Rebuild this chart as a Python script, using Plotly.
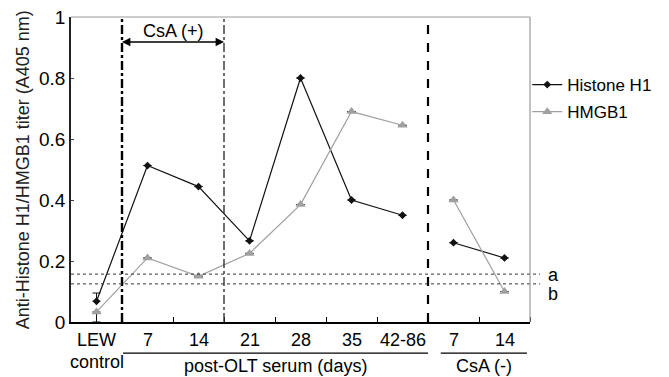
import plotly.graph_objects as go

categories = ["LEW", "7", "14", "21", "28", "35", "42-86", "7", "14"]
histone_h1 = [0.068, 0.513, 0.444, 0.266, 0.80, 0.40, 0.35, 0.26, 0.21]
hmgb1 = [0.033, 0.21, 0.15, 0.225, 0.385, 0.69, 0.645, 0.40, 0.10]
lew_err_h1 = 0.027
lew_err_hmgb1 = 0.033
cutoff_a = 0.157
cutoff_b = 0.125

xs = list(range(len(categories)))

def with_gap(vals):
    # break line between post-OLT group and CsA(-) group
    return vals[:7] + [None] + vals[7:]

xg = xs[:7] + [6.5] + xs[7:]

font = "Liberation Sans, Arial, sans-serif"
FS = 18
fig = go.Figure()

fig.add_trace(go.Scatter(
    x=xg, y=with_gap(histone_h1), name="Histone H1", mode="lines+markers",
    legendgroup="h1",
    line=dict(color="#111111", width=1.2),
    marker=dict(symbol="diamond", size=6, color="#111111"),
    error_y=dict(type="data", array=[lew_err_h1] + [0] * 9, arrayminus=[0] * 10,
                 color="#111111", thickness=1, width=4),
))
fig.add_trace(go.Scatter(
    x=xg, y=with_gap(hmgb1), name="HMGB1", mode="lines+markers",
    legendgroup="hmgb1",
    line=dict(color="#a0a0a0", width=1.2),
    marker=dict(symbol="triangle-up", size=9, color="#a0a0a0"),
    error_y=dict(type="data", array=[0] * 10, arrayminus=[lew_err_hmgb1] + [0] * 9,
                 color="#111111", thickness=1, width=4),
))

shapes = []
# vertical separators
shapes.append(dict(type="line", xref="x", yref="paper", x0=0.5, x1=0.5, y0=0, y1=1,
                   line=dict(color="black", width=2.4, dash="dashdot")))
shapes.append(dict(type="line", xref="x", yref="paper", x0=2.5, x1=2.5, y0=0, y1=1,
                   line=dict(color="#333333", width=1.4, dash="dashdot")))
shapes.append(dict(type="line", xref="x", yref="paper", x0=6.5, x1=6.5, y0=0, y1=1,
                   line=dict(color="black", width=2.2, dash="dash")))
# cutoff lines
for yv in (cutoff_a, cutoff_b):
    shapes.append(dict(type="line", xref="paper", yref="y", x0=0, x1=1.022, y0=yv, y1=yv,
                       line=dict(color="#333333", width=1, dash="dot")))
# top and right borders
shapes.append(dict(type="line", xref="paper", yref="paper", x0=0, x1=1, y0=1, y1=1,
                   line=dict(color="#999999", width=1.2)))
shapes.append(dict(type="line", xref="paper", yref="paper", x0=1, x1=1, y0=0, y1=1,
                   line=dict(color="#999999", width=1.2)))
# group underlines below axis
ULY = -0.102
shapes.append(dict(type="line", xref="x", yref="paper", x0=0.52, x1=6.5, y0=ULY, y1=ULY,
                   line=dict(color="black", width=1.2)))
shapes.append(dict(type="line", xref="x", yref="paper", x0=6.75, x1=8.44, y0=ULY, y1=ULY,
                   line=dict(color="black", width=1.2)))

annotations = []
# double arrow
for a0, a1 in ((0.5, 2.5), (2.5, 0.5)):
    annotations.append(dict(x=a0, y=0.918, ax=a1, ay=0.918, xref="x", yref="y", axref="x", ayref="y",
                            text="", showarrow=True, arrowhead=2, arrowsize=1.4, arrowwidth=1.2,
                            arrowcolor="black"))
annotations.append(dict(x=1.5, y=0.918, xref="x", yref="y", text="CsA (+)", showarrow=False,
                        yanchor="bottom", yshift=-1, font=dict(size=FS, color="black")))
# a/b labels
annotations.append(dict(x=1.035, y=cutoff_a, xref="paper", yref="y", text="a", showarrow=False,
                        xanchor="left", yshift=-1, font=dict(size=FS, color="black")))
annotations.append(dict(x=1.035, y=cutoff_b, xref="paper", yref="y", text="b", showarrow=False,
                        xanchor="left", yshift=-10, font=dict(size=FS, color="black")))
# category labels
for i, c in enumerate(categories):
    annotations.append(dict(x=i, y=0, xref="x", yref="paper", text=c, showarrow=False,
                            yanchor="top", yshift=-6, font=dict(size=FS, color="black")))
annotations.append(dict(x=0, y=0, xref="x", yref="paper", text="control", showarrow=False,
                        yanchor="top", yshift=-28, font=dict(size=FS, color="black")))
annotations.append(dict(x=3.5, y=ULY, xref="x", yref="paper", text="post-OLT serum (days)",
                        showarrow=False, yanchor="top", yshift=-1, font=dict(size=FS, color="black")))
annotations.append(dict(x=7.6, y=ULY, xref="x", yref="paper", text="CsA (-)",
                        showarrow=False, yanchor="top", yshift=-1, font=dict(size=FS, color="black")))
# y-axis title
annotations.append(dict(x=-0.105, y=0.5, xref="paper", yref="paper", textangle=-90,
                        xanchor="center", yanchor="middle",
                        text="Anti-Histone H1/HMGB1 titer (A405 nm)", showarrow=False,
                        font=dict(size=FS, color="#222222")))

fig.update_layout(
    width=669, height=377,
    margin=dict(l=71, r=139, t=17, b=55, autoexpand=False),
    paper_bgcolor="white", plot_bgcolor="white",
    font=dict(family=font, size=FS, color="black"),
    showlegend=True,
    legend=dict(x=0.994, y=0.836, xanchor="left", yanchor="top", bgcolor="rgba(0,0,0,0)",
                font=dict(size=17), tracegroupgap=2),
    shapes=shapes, annotations=annotations,
    xaxis=dict(range=[-0.5, 8.5], showgrid=False, zeroline=False, showline=True,
               linecolor="black", linewidth=1.8, tickvals=[], showticklabels=False,
               automargin=False,
               minor=dict(tickvals=[0.5, 1.5, 2.5, 3.5, 4.5, 5.5, 6.5, 7.5, 8.5],
                          ticks="inside", ticklen=5, tickcolor="black", tickwidth=1)),
    yaxis=dict(range=[0, 1], tickvals=[0, 0.2, 0.4, 0.6, 0.8, 1],
               ticktext=["0", "0.2", "0.4", "0.6", "0.8", "1"],
               showgrid=False, zeroline=False, showline=True, linecolor="#222222", linewidth=1.5,
               ticks="inside", ticklen=3, tickfont=dict(size=19), automargin=False),
)

fig.write_html("out.html", config={"displayModeBar": False},
               post_script="document.body.style.margin='0';")
